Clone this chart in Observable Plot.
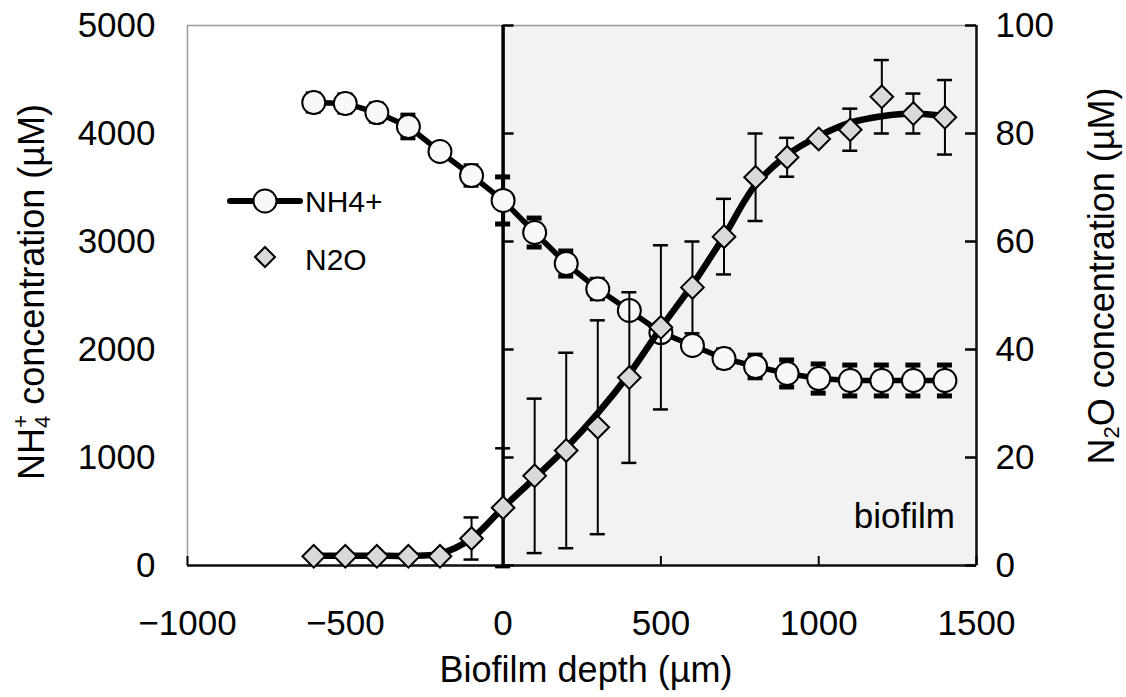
<!DOCTYPE html>
<html><head><meta charset="utf-8">
<script src="https://cdn.jsdelivr.net/npm/d3@7"></script>
<script src="https://cdn.jsdelivr.net/npm/@observablehq/plot@0.6"></script>
<style>
body{margin:0;background:#fff;}
#chart{position:relative;width:1126px;height:697px;}
</style></head><body><div id="chart"></div>
<script>
// ---- data ----
const depth   = [-600,-500,-400,-300,-200,-100,0,100,200,300,400,500,600,700,800,900,1000,1100,1200,1300,1400];
const nh4     = [4287,4278,4194,4065,3833,3611,3380,3083,2796,2560,2361,2157,2037,1917,1843,1778,1731,1713,1713,1713,1713];
const nh4Err  = [80,80,80,105,60,90,218,134,116,90,50,50,30,80,105,125,135,143,143,143,143];
const n2o     = [1.7,1.7,1.7,1.7,1.7,5.0,10.7,16.6,21.3,25.6,34.8,44.1,51.5,60.9,71.9,75.6,79.0,80.7,86.8,83.7,83.0];
const n2oErr  = [0,0,0,0,0,3.9,11,14.3,18.1,19.8,15.8,15.2,8.5,7,8.1,3.6,0,3.9,6.8,3.7,6.9];
const n2oFit  = [1.8,1.8,1.8,1.8,2.2,5.0,10.7,16.2,21.8,28.2,35.5,44.0,52.0,61.0,70.5,76.0,79.5,82.0,83.2,83.7,83.2];
const xTicks   = [-1000,-500,0,500,1000,1500];
const nh4Ticks = [0,1000,2000,3000,4000,5000];
const n2oTicks = [0,20,40,60,80,100];
const biofilmZone = [0,1500];
const axisRatio = 50; // 100 µM N2O on the right axis ↔ 5000 µM NH4+ on the left axis

// ---- tables ----
const nh4Data = depth.map((x,i)=>({x, y:nh4[i], lo:nh4[i]-nh4Err[i], hi:nh4[i]+nh4Err[i]}));
const n2oData = depth.map((x,i)=>({x, y:n2o[i]*axisRatio, lo:(n2o[i]-n2oErr[i])*axisRatio, hi:(n2o[i]+n2oErr[i])*axisRatio, e:n2oErr[i]}));
const n2oBars = n2oData.filter(d=>d.e>0);
const fitData = depth.map((x,i)=>({x, y:n2oFit[i]*axisRatio}));
const capsOf = arr => arr.flatMap(d=>[{x:d.x,y:d.lo},{x:d.x,y:d.hi}]);
const fmt = d => d < 0 ? "\u2212" + Math.abs(d) : String(d);
const FONT = "Liberation Sans, Arial, Helvetica, sans-serif";

const chart = Plot.plot({
  width:1126, height:697,
  marginLeft:187, marginRight:150, marginTop:25, marginBottom:132,
  style:{fontFamily:FONT, background:"white", color:"black", overflow:"visible"},
  x:{domain:[-1000,1500]},
  y:{domain:[0,5000]},
  marks:[
    Plot.rect([biofilmZone], {x1:d=>d[0], x2:d=>d[1], fill:"#f2f2f2"}),
    Plot.frame({stroke:"#9a9a9a", strokeWidth:1.5}),
    Plot.ruleY([0], {stroke:"#111", strokeWidth:2.5}),
    Plot.ruleX([biofilmZone[1]], {stroke:"#111", strokeWidth:2.5}),
    Plot.ruleX([0], {stroke:"#000", strokeWidth:3.5}),
    // inward ticks
    Plot.ruleY(nh4Ticks, {y:d=>d, x1:()=>0, x2:()=>0, insetRight:-11, stroke:"#000", strokeWidth:2.5}),
    Plot.ruleY(n2oTicks.map(v=>v*axisRatio), {y:d=>d, x1:()=>1500, x2:()=>1500, insetLeft:-11, stroke:"#000", strokeWidth:2.5}),
    Plot.ruleX(xTicks, {x:d=>d, y1:()=>0, y2:()=>0, insetTop:-9, stroke:"#000", strokeWidth:2}),
    // axes labels
    Plot.axisX({ticks:xTicks, tickFormat:fmt, tickSize:0, tickPadding:45, fontSize:35, label:null}),
    Plot.axisY({anchor:"left", ticks:nh4Ticks, tickFormat:fmt, tickSize:0, tickPadding:32, fontSize:35, label:null}),
    Plot.axisY({anchor:"right", ticks:n2oTicks.map(v=>v*axisRatio), tickFormat:d=>fmt(d/axisRatio), tickSize:0, tickPadding:19, fontSize:35, label:null}),
    // NH4+ series
    Plot.ruleX(nh4Data, {x:"x", y1:"lo", y2:"hi", stroke:"#000", strokeWidth:4}),
    Plot.ruleY(capsOf(nh4Data), {y:"y", x1:"x", x2:"x", insetLeft:-7.5, insetRight:-7.5, stroke:"#000", strokeWidth:5}),
    Plot.line(nh4Data, {x:"x", y:"y", stroke:"#000", strokeWidth:5.5}),
    Plot.dot(nh4Data, {x:"x", y:"y", r:11.5, fill:"#f8f8f8", stroke:"#000", strokeWidth:2}),
    // N2O series
    Plot.ruleX(n2oBars, {x:"x", y1:"lo", y2:"hi", stroke:"#000", strokeWidth:2}),
    Plot.ruleY(capsOf(n2oBars), {y:"y", x1:"x", x2:"x", insetLeft:-7.5, insetRight:-7.5, stroke:"#000", strokeWidth:2.5}),
    Plot.line(fitData, {x:"x", y:"y", stroke:"#000", strokeWidth:6.5, curve:"catmull-rom"}),
    Plot.dot(n2oData, {x:"x", y:"y", symbol:"diamond2", r:10.2, fill:"#d9d9d9", stroke:"#000", strokeWidth:2})
  ]
});
document.getElementById("chart").appendChild(chart);

// ---- titles, zone label, legend ----
const svg = d3.select(chart);
svg.append("text").attr("x",586).attr("y",682).attr("text-anchor","middle")
  .attr("font-family",FONT).attr("font-size",36).attr("fill","#000").text("Biofilm depth (\u00b5m)");

const lt = svg.append("text").attr("transform","translate(44,292) rotate(-90)").attr("text-anchor","middle")
  .attr("font-family",FONT).attr("font-size",36).attr("fill","#000");
lt.append("tspan").text("NH");
lt.append("tspan").attr("font-size",22).attr("dy",6).text("4");
lt.append("tspan").attr("font-size",22).attr("dx",-12).attr("dy",-22).text("+");
lt.append("tspan").attr("dy",16).text(" concentration (\u00b5M)");

const rt = svg.append("text").attr("transform","translate(1114,276) rotate(-90)").attr("text-anchor","middle")
  .attr("font-family",FONT).attr("font-size",36).attr("fill","#000");
rt.append("tspan").text("N");
rt.append("tspan").attr("font-size",22).attr("dy",5).text("2");
rt.append("tspan").attr("dy",-5).text("O concentration (\u00b5M)");

svg.append("text").attr("x",955).attr("y",528).attr("text-anchor","end")
  .attr("font-family",FONT).attr("font-size",35).attr("fill","#000").text("biofilm");

const lg = svg.append("g").attr("text-anchor","start");
lg.append("line").attr("x1",230).attr("x2",300).attr("y1",201).attr("y2",201).attr("stroke","#000").attr("stroke-width",6).attr("stroke-linecap","round");
lg.append("circle").attr("cx",265).attr("cy",201).attr("r",11.5).attr("fill","#f8f8f8").attr("stroke","#000").attr("stroke-width",2);
lg.append("text").attr("x",305).attr("y",212).attr("text-anchor","start").attr("font-family",FONT).attr("font-size",30).attr("fill","#000").text("NH4+");
lg.append("path").attr("d",d3.symbol(d3.symbolDiamond2, 9*9*Math.PI)()).attr("transform","translate(265,257)")
  .attr("fill","#d9d9d9").attr("stroke","#000").attr("stroke-width",2);
lg.append("text").attr("x",305).attr("y",270).attr("text-anchor","start").attr("font-family",FONT).attr("font-size",30).attr("fill","#000").text("N2O");
</script>
</body></html>
